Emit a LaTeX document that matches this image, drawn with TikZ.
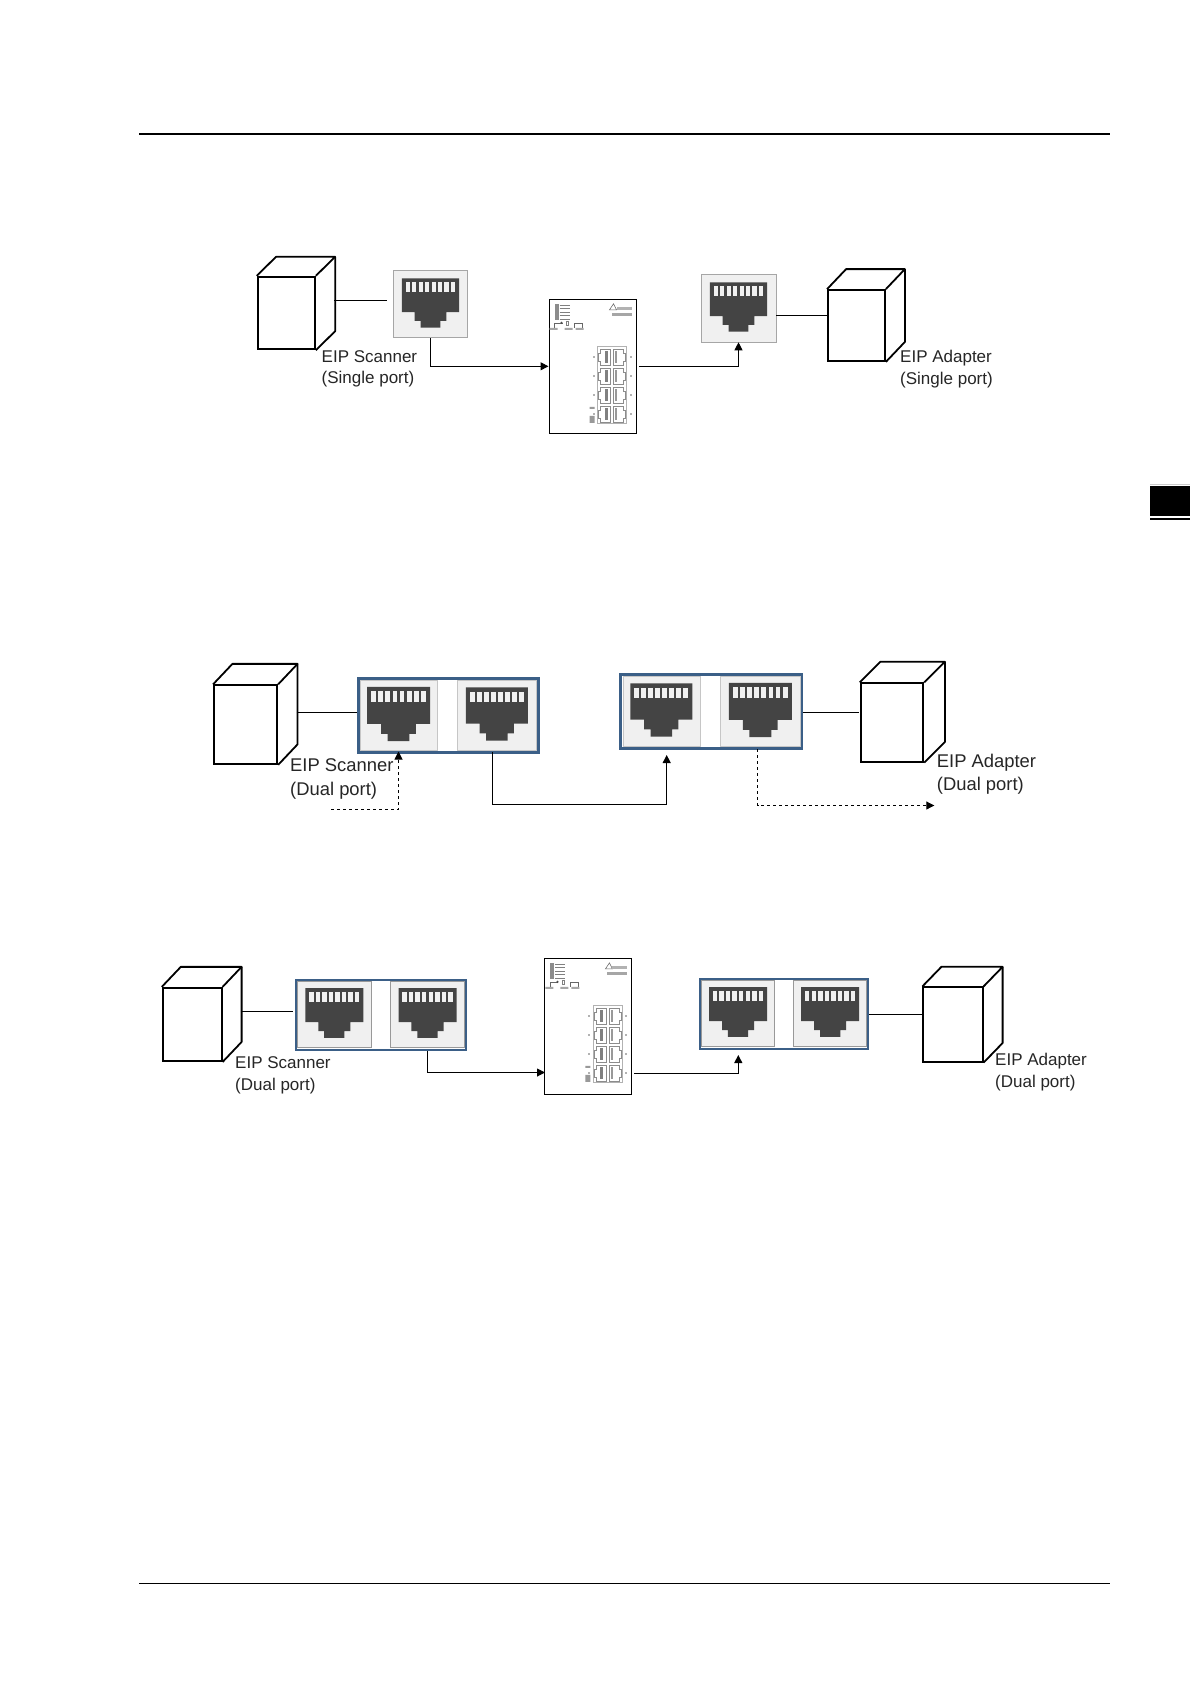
\documentclass[tikz,border=0pt]{standalone}
\usepackage{fontspec}
\setmainfont{Liberation Sans}
\usetikzlibrary{arrows.meta,calc}
\definecolor{cellgray}{HTML}{F0F0F0}
\definecolor{glyphgray}{HTML}{444444}
\definecolor{frameblue}{HTML}{3B5F87}
\tikzset{
  cubeline/.style={line width=1.8pt},
  cubeface/.style={draw, cubeline, inner sep=0pt},
  jackbox/.style={draw=gray!70, line width=.6pt, fill=cellgray, inner sep=0pt},
  jackframe/.style={draw=frameblue, line width=3pt, fill=white, inner sep=0pt},
  jackcell/.style={draw=gray!45, line width=.6pt, fill=cellgray, inner sep=0pt},
  switchbox/.style={draw, line width=1pt, fill=white, inner sep=0pt},
  wire/.style={line width=1pt},
  caption/.style={anchor=north west, inner sep=0pt, align=left, text=black!85},
}
% back edges of a cube, behind the named front face
\newcommand{\cubeback}[3]{
  \draw[cubeline, line join=round] (#1.north west) -- ($(#1.north west)+(#2,-#3)$)
    -- ($(#1.north east)+(#2,-#3)$) -- (#1.north east);
  \draw[cubeline, line join=round] ($(#1.north east)+(#2,-#3)$)
    -- ($(#1.south east)+(#2,-#3)$) -- (#1.south east);
}
% socket symbol on a named cell, #2 = its width
\newcommand{\rjglyph}[2]{
  \begin{scope}[shift={(#1.center)}, yshift=1pt, x=#2pt, y=-#2pt]
    \fill[glyphgray] (-.5,-.43) -- (.5,-.43) -- (.5,.157) -- (.276,.157) -- (.276,.314)
      -- (.174,.314) -- (.174,.43) -- (-.174,.43) -- (-.174,.314) -- (-.276,.314)
      -- (-.276,.157) -- (-.5,.157) -- cycle;
    \foreach \k in {0,...,7}
      \fill[cellgray] ({-.434+.113*\k},-.36) rectangle ++(.076,.163);
  \end{scope}
}
% front panel details of a named switch
\newcommand{\switchpanel}[1]{
  \begin{scope}[shift={(#1.north west)}, x=1pt, y=-1pt]
    \fill[gray!90] (6,5) rectangle (10,21);
    \foreach \k in {0,...,4}
      \draw[gray, line width=.5pt] (11,{6+3.5*\k}) -- (21,{6+3.5*\k});
    \draw[gray!80!black, line width=.5pt] (6,29) |- (14,24) (26,29) |- (34,24) -- (34,29);
    \fill[black!70] (13,24) circle (1.2pt);
    \draw[gray, line width=.5pt] (18,22) rectangle (20,26);
    \fill[gray!70] (1,29) rectangle (9,31) (16,29) rectangle (24,31) (27,29) rectangle (35,31);
    \draw[gray!80!black, line width=.6pt] (61,11) -- (65,5) -- (68,11) -- cycle;
    \fill[gray!60] (68,8) rectangle (83,11);
    \fill[gray!70] (63,14) rectangle (83,17);
    \draw[gray!60, line width=.8pt] (48.7,47.7) rectangle (78.3,125);
    \foreach \r in {0,1,2,3} {
      \begin{scope}[yshift={-(50+19.2*\r)*1pt}]
        \draw[gray!90, line width=.6pt] (52,0) -- (62,0) -- (62,16) -- (52,16) -- (52,12)
          -- (50,12) -- (50,4) -- (52,4) -- cycle;
        \draw[gray!90, line width=.6pt] (65,0) -- (75,0) -- (75,4) -- (77,4) -- (77,12)
          -- (75,12) -- (75,16) -- (65,16) -- cycle;
        \fill[gray] (56,2) rectangle (59,14);
        \fill[gray!80] (66.5,2) rectangle (68.5,14);
      \end{scope}
      \fill[gray!60] (44,{57+19.2*\r}) rectangle ++(2,2);
      \fill[gray!60] (81,{57+19.2*\r}) rectangle ++(2,2);
    }
    \fill[gray!80] (41,108) rectangle (46,110) (41,117) rectangle (46,124);
  \end{scope}
}
\begin{document}
\begin{tikzpicture}[x=1pt, y=-1pt, >={Triangle[length=8pt,width=8pt]}]
  \useasboundingbox[fill=white] (0,0) rectangle (1191,1684);
  % page rules and tab
  \draw[line width=2pt] (139,134) -- (1110,134);
  \draw[line width=1pt] (139,1583.5) -- (1110,1583.5);
  \draw[gray!40, line width=1pt] (1150,484.5) -- (1190,484.5);
  \fill (1150,486) rectangle (1190,516);
  \draw[line width=1.2pt] (1150,519) -- (1190,519);

  % single port row
  \node[cubeface, minimum width=57.3pt, minimum height=72.6pt] (cubeA) at (286.3,313) {};
  \cubeback{cubeA}{19.3}{19}
  \node[jackbox, minimum width=74.4pt, minimum height=67.4pt] (jackA) at (430.5,304) {};
  \rjglyph{jackA}{57.3}
  \node[switchbox, minimum width=87pt, minimum height=134pt] (switchA) at (592.5,366.3) {};
  \switchpanel{switchA}
  \node[jackbox, minimum width=75pt, minimum height=68pt] (jackB) at (738.5,308) {};
  \rjglyph{jackB}{57.3}
  \node[cubeface, minimum width=57pt, minimum height=71pt] (cubeB) at (856.5,325.5) {};
  \cubeback{cubeB}{19}{20}
  \node[caption, font=\fontsize{17}{21.5}\selectfont] (textA) at (321.5,350) {EIP Scanner\\(Single port)};
  \node[caption, font=\fontsize{17}{21.5}\selectfont] (textB) at (900,350) {EIP Adapter\\(Single port)};
  \coordinate (linkA) at (334.3,300.5);
  \coordinate (linkB) at (828,315.5);
  \coordinate (outA) at (639,366.5);
  \draw[wire, shorten >=6pt] (linkA) -- (linkA -| jackA.west);
  \draw[wire] (linkB -| jackB.east) -- (linkB);
  \draw[wire, ->] (jackA.south) |- (switchA.west);
  \draw[wire, ->] (outA) -| (jackB.south);

  % dual port row, no switch
  \node[cubeface, minimum width=63.3pt, minimum height=78.7pt] (cubeC) at (245.6,724.6) {};
  \cubeback{cubeC}{19.4}{20.5}
  \node[jackframe, minimum width=180pt, minimum height=74pt] (frameC) at (448,715) {};
  \node[jackcell, minimum width=77pt, minimum height=70pt] (cellCa) at (398.5,715) {};
  \node[jackcell, minimum width=79pt, minimum height=70pt] (cellCb) at (496.8,715) {};
  \rjglyph{cellCa}{63}
  \rjglyph{cellCb}{62}
  \node[jackframe, minimum width=181pt, minimum height=74pt] (frameD) at (711.3,711) {};
  \node[jackcell, minimum width=77pt, minimum height=70pt] (cellDa) at (661.3,711) {};
  \node[jackcell, minimum width=80pt, minimum height=70pt] (cellDb) at (760.3,711) {};
  \rjglyph{cellDa}{62}
  \rjglyph{cellDb}{63}
  \node[cubeface, minimum width=62.6pt, minimum height=78.4pt] (cubeD) at (892,722.5) {};
  \cubeback{cubeD}{20.7}{20.7}
  \node[caption, font=\fontsize{18.4}{23.5}\selectfont] (textC) at (290,758.5) {EIP Scanner\\(Dual port)};
  \node[caption, font=\fontsize{18.4}{23.5}\selectfont] (textD) at (936.7,753.5) {EIP Adapter\\(Dual port)};
  \coordinate (linkC) at (296.7,712.5);
  \coordinate (linkD) at (859.3,712.5);
  \coordinate (loopC) at (331,809.5);
  \coordinate (outC) at (492.7,752);
  \coordinate (midC) at (492.7,804.5);
  \coordinate (inD) at (666.7,755);
  \coordinate (outD) at (757.7,749);
  \coordinate (loopD) at (934.3,805.5);
  \draw[wire] (linkC) -- (linkC -| frameC.west);
  \draw[wire] (linkD -| frameD.east) -- (linkD);
  \draw[wire, ->] (outC) -- (midC) -| (inD);
  \draw[wire, dashed, ->] (loopC) -| ([yshift=2pt]cellCa.south |- frameC.south);
  \draw[wire, dashed, ->] (outD) |- (loopD);

  % dual port row with switch
  \node[cubeface, minimum width=59pt, minimum height=73.3pt] (cubeE) at (192.2,1024.4) {};
  \cubeback{cubeE}{19}{20}
  \node[jackframe, line width=2pt, minimum width=170pt, minimum height=70pt] (frameE) at (380.8,1015) {};
  \node[jackcell, draw=gray!80, minimum width=74pt, minimum height=66pt] (cellEa) at (334.3,1014) {};
  \node[jackcell, draw=gray!80, minimum width=74pt, minimum height=66pt] (cellEb) at (427.5,1014) {};
  \rjglyph{cellEa}{58}
  \rjglyph{cellEb}{58}
  \node[switchbox, minimum width=86.7pt, minimum height=135.7pt] (switchB) at (588.3,1026.2) {};
  \switchpanel{switchB}
  \node[jackframe, line width=2pt, minimum width=168pt, minimum height=70pt] (frameF) at (784.3,1013.5) {};
  \node[jackcell, draw=gray!80, minimum width=73pt, minimum height=66pt] (cellFa) at (738,1013) {};
  \node[jackcell, draw=gray!80, minimum width=73pt, minimum height=66pt] (cellFb) at (830.2,1013) {};
  \rjglyph{cellFa}{58}
  \rjglyph{cellFb}{58}
  \node[cubeface, minimum width=59.4pt, minimum height=74.4pt] (cubeF) at (953,1024.5) {};
  \cubeback{cubeF}{19}{19.6}
  \node[caption, font=\fontsize{17}{22}\selectfont] (textE) at (235,1056.7) {EIP Scanner\\(Dual port)};
  \node[caption, font=\fontsize{17}{22}\selectfont] (textF) at (995,1053.4) {EIP Adapter\\(Dual port)};
  \coordinate (linkE) at (240.7,1011.5);
  \coordinate (linkF) at (922.7,1014.5);
  \coordinate (inB) at (545,1072.5);
  \coordinate (outB) at (634,1073.5);
  \coordinate (inF) at (738.3,1055);
  \draw[wire, shorten >=2pt] (linkE) -- (linkE -| frameE.west);
  \draw[wire] (linkF -| frameF.east) -- (linkF);
  \draw[wire, ->] (cellEb.south |- frameE.south) |- (inB);
  \draw[wire, ->] (outB) -| (inF);
\end{tikzpicture}
\end{document}
